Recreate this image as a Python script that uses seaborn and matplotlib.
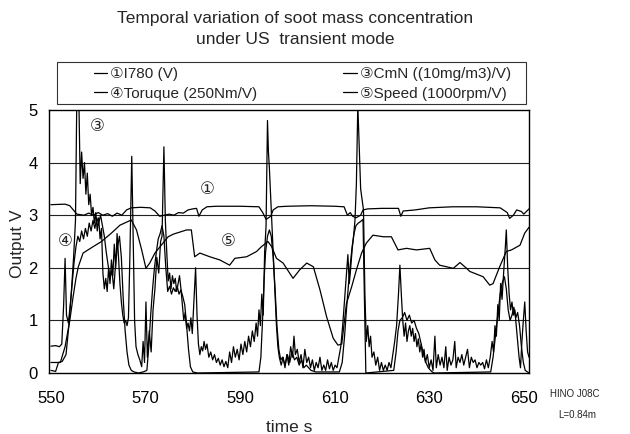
import numpy as np
import pandas as pd
import matplotlib
matplotlib.use("Agg")
import matplotlib.pyplot as plt
from matplotlib.patches import Rectangle
import seaborn as sns

# ---------------- data ----------------
t_i780 = [550.0, 553.0, 554.0, 555.5, 557.0, 558.0, 559.0, 560.0, 561.0, 562.0, 563.0, 564.0, 565.0,
          566.0, 567.0, 569.0, 571.0, 572.0, 573.0, 574.0, 575.0, 576.0, 577.0, 578.0, 579.0, 580.0,
          580.8, 581.3, 582.0, 583.0, 585.0, 590.0, 594.0, 594.8, 595.5, 596.5, 597.0, 598.0, 600.0,
          605.0, 610.0, 612.0, 612.7, 613.3, 613.8, 614.5, 615.5, 616.0, 617.0, 620.0, 623.5, 624.0,
          624.5, 627.0, 630.0, 635.0, 640.0, 645.0, 646.5, 647.0, 647.8, 648.5, 649.5, 650.0, 651.1]
v_i780 = [3.20, 3.21, 3.18, 3.02, 3.00, 3.04, 3.00, 3.05, 3.00, 3.03, 2.98, 3.04, 3.00,
          3.10, 3.14, 3.15, 3.14, 3.08, 2.98, 3.00, 3.02, 3.00, 3.05, 3.04, 3.10, 3.12,
          3.13, 2.98, 3.10, 3.16, 3.17, 3.17, 3.16, 3.05, 2.92, 2.98, 3.10, 3.16, 3.17,
          3.18, 3.17, 3.16, 3.00, 3.05, 2.98, 2.95, 3.00, 3.10, 3.12, 3.13, 3.13, 2.98,
          3.08, 3.10, 3.14, 3.16, 3.16, 3.14, 3.05, 2.94, 3.00, 3.10, 3.07, 3.02, 3.12]

t_cmn = [550.0, 551.0, 551.6, 552.4, 553.2, 553.8, 554.3, 554.8, 555.2, 555.5, 555.9, 556.2, 556.5,
         556.8, 557.1, 557.4, 557.7, 558.0, 558.3, 558.6, 558.9, 559.2, 559.5, 559.8, 560.1, 560.4,
         560.7, 561.0, 561.3, 561.6, 561.9, 562.2, 562.5, 562.8, 563.1, 563.4, 563.7, 564.0, 564.3,
         564.6, 564.9, 565.2, 565.5, 565.8, 566.1, 566.4, 566.7, 567.1, 567.4, 567.7, 568.0, 568.4,
         568.8, 569.2, 569.5, 569.8, 570.1, 570.4, 570.8, 571.2, 571.6, 572.0, 572.4, 572.8, 573.2,
         573.5, 573.9, 574.2, 574.5, 574.8, 575.1, 575.4, 575.7, 576.0, 576.3, 576.6, 576.9, 577.2,
         577.5, 577.8, 578.1, 578.4, 578.7, 579.0, 579.3, 579.6, 579.9, 580.2, 580.6, 580.9, 581.2,
         581.5, 581.8, 582.1, 582.4, 582.7, 583.0, 583.4, 583.8, 584.2, 584.6, 585.0, 585.4, 585.8,
         586.2, 586.6, 587.0, 587.4, 587.8, 588.2, 588.6, 589.0, 589.4, 589.8, 590.2, 590.6, 591.0,
         591.4, 591.8, 592.2, 592.6, 593.0, 593.4, 593.7, 594.0, 594.3, 594.6, 594.9, 595.2, 595.5,
         595.8, 596.0, 596.2, 596.5, 596.8, 597.1, 597.4, 597.7, 598.0, 598.3, 598.7, 599.1, 599.5,
         599.9, 600.3, 600.7, 601.1, 601.4, 601.7, 602.1, 602.5, 602.9, 603.3, 603.7, 604.1, 604.5,
         604.9, 605.3, 605.7, 606.1, 606.5, 606.9, 607.3, 607.7, 608.1, 608.5, 608.9, 609.3, 609.7,
         610.1, 610.5, 610.9, 611.3, 611.7, 612.1, 612.5, 612.8, 613.1, 613.4, 613.7, 614.0, 614.3,
         614.6, 614.9, 615.2, 615.5, 615.8, 616.1, 616.4, 616.7, 617.0, 617.3, 617.6, 617.9, 618.3,
         618.7, 619.1, 619.5, 619.9, 620.3, 620.7, 621.1, 621.5, 621.9, 622.3, 622.7, 623.1, 623.5,
         623.8, 624.1, 624.4, 624.7, 625.0, 625.3, 625.6, 625.9, 626.2, 626.5, 626.8, 627.1, 627.4,
         627.7, 628.0, 628.3, 628.6, 628.9, 629.2, 629.6, 630.0, 630.4, 630.8, 631.2, 631.5, 631.9,
         632.3, 632.7, 633.1, 633.5, 633.8, 634.2, 634.6, 635.0, 635.4, 635.7, 636.1, 636.5, 636.9,
         637.3, 637.7, 638.1, 638.5, 638.9, 639.3, 639.7, 640.1, 640.5, 640.9, 641.3, 641.7, 642.1,
         642.5, 642.9, 643.3, 643.6, 643.9, 644.2, 644.5, 644.8, 645.1, 645.4, 645.8, 646.1, 646.3,
         646.6, 646.9, 647.2, 647.5, 647.8, 648.1, 648.4, 648.7, 649.0, 649.3, 649.6, 649.9, 650.2,
         650.5, 650.8, 651.1]
v_cmn = [0.05, 0.03, 0.20, 0.22, 0.35, 0.90, 1.50, 2.20, 2.90, 5.40, 5.30, 3.60, 4.20,
         3.70, 4.00, 3.40, 3.80, 3.20, 3.40, 3.00, 3.15, 2.85, 3.05, 2.70, 2.95, 2.55,
         2.75, 1.90, 1.60, 1.80, 1.55, 2.00, 1.70, 2.15, 1.85, 2.45, 2.00, 2.65, 2.20,
         1.70, 1.35, 1.10, 0.95, 1.00, 0.90, 1.05, 2.20, 4.12, 2.50, 1.00, 0.50, 0.35,
         0.25, 0.12, 0.60, 0.20, 1.35, 0.30, 0.80, 0.40, 1.20, 1.60, 2.20, 1.90, 2.50,
         2.60, 4.30, 2.90, 2.30, 1.75, 1.90, 1.60, 1.85, 1.70, 1.80, 1.55, 1.70, 1.85,
         1.60, 1.30, 1.00, 1.15, 0.85, 0.95, 0.80, 1.05, 0.75, 1.30, 2.00, 1.10, 0.55,
         0.35, 0.50, 0.42, 0.60, 0.45, 0.55, 0.30, 0.40, 0.25, 0.35, 0.20, 0.28, 0.15,
         0.25, 0.12, 0.22, 0.10, 0.40, 0.20, 0.50, 0.30, 0.45, 0.25, 0.55, 0.35, 0.60,
         0.40, 0.70, 0.50, 0.80, 0.60, 0.95, 0.70, 1.20, 0.90, 1.50, 1.10, 2.30, 2.80,
         4.80, 4.20, 3.90, 3.30, 2.70, 2.10, 1.50, 0.90, 0.50, 0.30, 0.15, 0.30, 0.10,
         0.35, 0.15, 0.50, 0.30, 0.70, 0.35, 0.45, 0.20, 0.35, 0.10, 0.45, 0.20, 0.30,
         0.10, 0.25, 0.05, 0.20, 0.10, 0.30, 0.05, 0.15, 0.05, 0.25, 0.08, 0.20, 0.05,
         0.15, 0.10, 0.30, 0.50, 0.90, 1.40, 1.90, 2.25, 1.70, 2.00, 2.35, 2.60, 2.90,
         3.60, 5.10, 4.30, 3.50, 3.30, 3.10, 1.50, 0.60, 0.90, 0.50, 0.70, 0.30, 0.40,
         0.15, 0.30, 0.05, 0.20, 0.05, 0.15, 0.05, 0.20, 0.10, 0.35, 0.60, 0.90, 1.50,
         2.05, 1.50, 1.00, 0.70, 0.95, 0.60, 0.80, 0.90, 0.70, 0.85, 0.60, 0.75, 0.50,
         0.65, 0.40, 0.55, 0.30, 0.45, 0.20, 0.35, 0.10, 0.25, 0.05, 0.70, 0.10, 0.35,
         0.15, 0.30, 0.10, 0.50, 0.05, 0.30, 0.15, 0.25, 0.60, 0.10, 0.30, 0.20, 0.35,
         0.15, 0.30, 0.45, 0.10, 0.30, 0.20, 0.25, 0.10, 0.20, 0.15, 0.20, 0.08, 0.25,
         0.10, 0.30, 0.60, 0.40, 0.90, 0.70, 1.30, 1.00, 1.70, 1.40, 2.00, 2.40, 2.72,
         2.00, 1.50, 1.20, 1.35, 1.10, 1.20, 0.90, 0.60, 0.30, 0.10, 0.60, 1.00, 1.35,
         0.80, 0.40, 0.30]

t_torque = [550.0, 551.0, 551.8, 552.3, 552.7, 553.0, 553.3, 553.7, 554.1, 554.5, 554.9, 555.3, 555.7,
            556.1, 556.5, 556.9, 557.3, 557.7, 558.1, 558.5, 558.9, 559.3, 559.7, 560.1, 560.5, 560.9,
            561.3, 561.7, 562.1, 562.5, 562.9, 563.3, 563.7, 564.1, 564.5, 564.9, 565.3, 565.7, 566.1,
            566.5, 567.0, 567.6, 568.5, 569.5, 570.3, 570.7, 571.1, 571.5, 571.9, 572.3, 572.7, 573.1,
            573.5, 573.9, 574.3, 574.7, 575.1, 575.5, 575.9, 576.3, 576.7, 577.1, 577.5, 577.9, 578.3,
            578.7, 579.1, 579.5, 580.0, 581.0, 594.0, 594.4, 594.8, 595.1, 595.4, 595.8, 596.2, 596.6,
            597.0, 597.4, 597.8, 598.2, 598.6, 599.0, 599.5, 600.0, 600.5, 601.0, 601.5, 602.0, 602.5,
            603.0, 603.5, 604.0, 605.0, 606.0, 611.0, 611.6, 612.1, 612.5, 612.9, 613.3, 613.7, 614.1,
            614.5, 615.0, 615.5, 616.0, 616.3, 616.6, 622.5, 623.0, 623.4, 623.8, 624.3, 624.8, 625.3,
            625.8, 626.3, 626.8, 627.3, 627.8, 628.3, 628.8, 629.3, 629.8, 630.5, 631.0, 643.0, 643.5,
            644.0, 644.5, 645.0, 645.4, 645.9, 646.3, 646.7, 647.1, 647.5, 647.9, 648.3, 648.7, 649.1,
            649.5, 649.9, 650.3, 651.1]
v_torque = [0.51, 0.52, 0.50, 0.55, 1.30, 2.18, 1.10, 0.95, 1.30, 1.70, 2.10, 2.40, 2.60,
            2.50, 2.70, 2.55, 2.75, 2.60, 2.85, 2.70, 2.90, 2.75, 2.95, 2.85, 3.00, 2.80,
            2.60, 2.30, 2.05, 1.80, 1.95, 1.60, 2.10, 2.40, 2.60, 2.20, 1.40, 0.80, 0.40,
            0.15, 0.05, 0.02, 0.00, 0.02, 0.05, 0.50, 1.10, 1.60, 2.00, 2.30, 2.55, 2.65,
            2.80, 2.60, 2.00, 1.55, 1.65, 1.50, 1.62, 1.55, 1.65, 1.50, 1.58, 1.45, 1.30,
            0.90, 0.45, 0.12, 0.02, 0.00, 0.02, 0.30, 1.10, 1.80, 2.30, 2.60, 2.72, 2.60,
            2.20, 1.60, 0.90, 0.45, 0.25, 0.30, 0.15, 0.35, 0.20, 0.40, 0.25, 0.30, 0.15,
            0.25, 0.10, 0.15, 0.05, 0.02, 0.02, 0.20, 0.70, 1.20, 1.65, 2.05, 2.40, 2.65,
            2.80, 2.85, 2.88, 2.92, 1.40, 0.00, 0.05, 0.40, 0.80, 1.00, 1.05, 1.15, 1.00,
            1.10, 0.95, 1.00, 0.85, 0.75, 0.55, 0.35, 0.20, 0.10, 0.03, 0.00, 0.02, 0.30,
            0.70, 1.10, 1.50, 1.70, 1.83, 1.60, 1.20, 1.00, 1.10, 1.25, 1.05, 1.15, 0.90,
            0.50, 0.20, 0.05, 0.00]

t_speed = [550.0, 552.0, 553.0, 554.0, 554.7, 555.3, 555.8, 556.8, 558.9, 560.7, 562.8, 564.6, 566.3,
           567.0, 568.1, 569.2, 570.1, 570.9, 572.0, 573.7, 574.8, 575.9, 578.7, 579.7, 580.4, 581.5,
           583.6, 585.7, 587.8, 588.9, 591.4, 593.5, 594.5, 595.9, 596.7, 597.7, 599.1, 601.2, 602.6,
           604.1, 605.5, 606.9, 608.3, 609.7, 610.7, 611.5, 612.5, 613.6, 614.6, 615.7, 616.7, 618.1,
           620.3, 622.0, 623.4, 625.2, 627.3, 630.1, 631.2, 632.2, 635.1, 636.5, 637.9, 638.6, 641.4,
           642.8, 643.5, 644.9, 646.3, 647.4, 649.2, 650.2, 651.1]
v_speed = [0.20, 0.20, 0.50, 1.00, 1.45, 1.80, 2.02, 2.28, 2.40, 2.50, 2.66, 2.81, 2.88,
           2.91, 2.72, 2.34, 1.99, 2.09, 2.28, 2.47, 2.59, 2.64, 2.72, 2.72, 2.21, 2.28,
           2.21, 2.15, 2.05, 2.18, 2.21, 2.31, 2.40, 2.50, 2.40, 2.18, 2.09, 1.80, 1.96,
           2.09, 2.02, 1.58, 1.07, 0.66, 0.53, 0.55, 1.32, 1.64, 1.96, 2.28, 2.47, 2.62,
           2.59, 2.59, 2.34, 2.37, 2.34, 2.37, 2.15, 2.05, 1.99, 2.10, 1.99, 1.93, 1.83,
           1.67, 1.70, 2.02, 2.31, 2.34, 2.43, 2.66, 2.77]

series_labels = ["\u2460I780 (V)", "\u2462CmN ((10mg/m3)/V)", "\u2463Toruque (250Nm/V)", "\u2464Speed (1000rpm/V)"]
x_ticks = [550, 570, 590, 610, 630, 650]
y_ticks = [0, 1, 2, 3, 4, 5]

# ---------------- style ----------------
sns.set_style("white")
plt.rcParams["font.family"] = ["Liberation Sans", "DejaVu Sans"]

W, H = 630, 434
fig = plt.figure(figsize=(W / 100, H / 100), dpi=100)
ax = fig.add_axes([49 / W, 1 - 373 / H, 480 / W, 263 / H])

series = [(t_i780, v_i780, series_labels[0]),
          (t_cmn, v_cmn, series_labels[1]),
          (t_torque, v_torque, series_labels[2]),
          (t_speed, v_speed, series_labels[3])]
for tt, vv, lab in series:
    df = pd.DataFrame({"t": tt, "v": vv})
    sns.lineplot(data=df, x="t", y="v", ax=ax, color="black", lw=0.9,
                 estimator=None, sort=False, label=lab)

ax.set_xlim(549.6, 651.1)
ax.set_ylim(0, 5)
ax.set_xticks(x_ticks)
ax.set_yticks(y_ticks)
ax.tick_params(axis="both", length=0, labelsize=12, colors="black")
ax.tick_params(axis="x", pad=13)
ax.tick_params(axis="y", pad=8)
for y in y_ticks[1:-1]:
    ax.axhline(y, color="#222222", lw=0.8, zorder=0)
for s in ax.spines.values():
    s.set_color("black")
    s.set_linewidth(1.0)
    s.set_visible(True)

ax.set_xlabel("time s", fontsize=12.5)
ax.set_ylabel("Output V", fontsize=12.5)
ax.xaxis.set_label_coords(0.5, -0.178)
ax.yaxis.set_label_coords(-0.05, 0.49)

# in-plot series markers
ax.text(559.7, 4.68, "\u2462", fontsize=12, ha="center", va="center")
ax.text(583.1, 3.48, "\u2460", fontsize=12, ha="center", va="center")
ax.text(587.5, 2.50, "\u2464", fontsize=12, ha="center", va="center")
ax.text(553.1, 2.50, "\u2463", fontsize=12, ha="center", va="center")

# title
fig.text(295 / W, 1 - 18 / H, "Temporal variation of soot mass concentration",
         fontsize=12.5, ha="center", va="center")
fig.text(295 / W, 1 - 40 / H, "under US  transient mode",
         fontsize=12.5, ha="center", va="center")

# legend
handles, labels = ax.get_legend_handles_labels()
ax.get_legend().remove()
order = [0, 2, 1, 3]
fig.add_artist(Rectangle((57 / W, 1 - 104 / H), 469 / W, 42 / H, transform=fig.transFigure,
                         fill=False, edgecolor="#333333", lw=0.8))
fig.legend([handles[i] for i in order], [labels[i] for i in order], ncol=2, frameon=False,
           loc="center left", bbox_to_anchor=(86 / W, 1 - 84 / H), fontsize=11,
           handlelength=0.9, handletextpad=0.2, columnspacing=5.6, labelspacing=0.35,
           borderpad=0.0)

# side note
fig.text(575 / W, 1 - 394 / H, "HINO J08C", fontsize=7, ha="center", va="center")
fig.text(577 / W, 1 - 415 / H, "L=0.84m", fontsize=7, ha="center", va="center")

fig.savefig("out.png", dpi=100)
